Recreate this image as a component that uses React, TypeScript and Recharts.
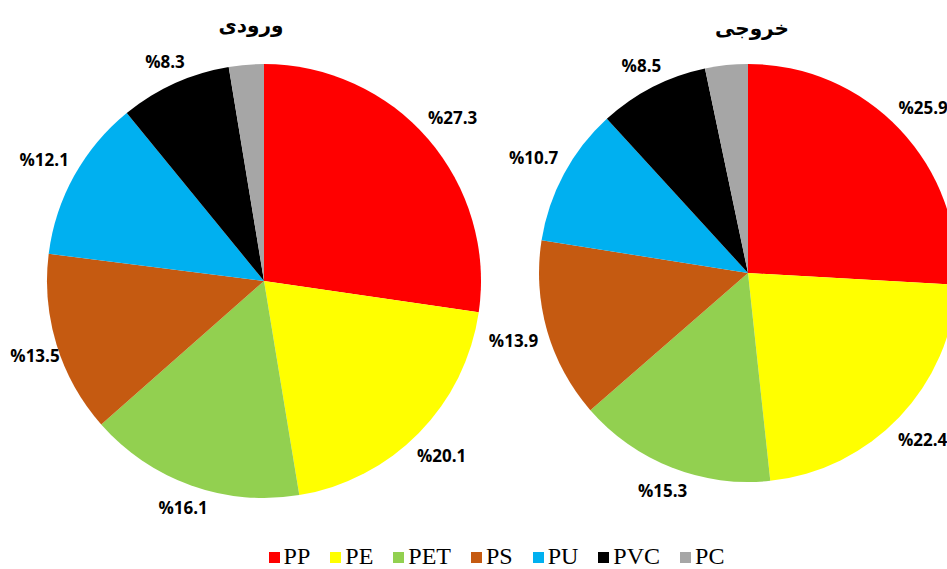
import { PieChart, Pie, Cell, Legend } from "recharts";

const categories = ["PP", "PE", "PET", "PS", "PU", "PVC", "PC"];
const inletValues = [27.3, 20.1, 16.1, 13.5, 12.1, 8.3, 2.6];
const outletValues = [25.9, 22.4, 15.3, 13.9, 10.7, 8.5, 3.3];
const titles = ["ورودی", "خروجی"];

const COLORS = ["#ff0000", "#ffff00", "#92d050", "#c55a11", "#00b0f0", "#000000", "#a6a6a6"];

const inletData = categories.map((name, i) => ({ name, value: inletValues[i] }));
const outletData = categories.map((name, i) => ({ name, value: outletValues[i] }));

const RADIAN = Math.PI / 180;

// etiqueta fuera del sector, como "outside end" de Excel
function renderLabel(props: any) {
  const { cx, cy, midAngle, outerRadius, value, name } = props;
  if (name === "PC") return null;
  const text = `%${value}`;
  const w = text.length * 10;
  const h = 14;
  const cos = Math.cos(-midAngle * RADIAN);
  const sin = Math.sin(-midAngle * RADIAN);
  const d = outerRadius + 9 + (w / 2) * Math.abs(cos) + (h / 2) * Math.abs(sin);
  const x = Math.max(cx + d * cos, w / 2 + 10);
  return (
    <text
      x={x}
      y={cy + d * sin}
      textAnchor="middle"
      dominantBaseline="central"
      fill="#000"
      style={{ fontFamily: "'Open Sans', sans-serif", fontWeight: 700, fontSize: 17 }}
    >
      {text}
    </text>
  );
}

// leyenda: una entrada por categoría, en el orden de los datos
function renderLegend() {
  return (
    <div
      style={{
        display: "flex",
        justifyContent: "center",
        paddingLeft: 46,
        fontFamily: "'Liberation Serif', serif",
        fontSize: 24,
        lineHeight: "26px",
        color: "#000",
      }}
    >
      {categories.map((name, i) => (
        <span
          key={name}
          style={{ display: "inline-flex", alignItems: "center", marginRight: i < categories.length - 1 ? 20 : 0 }}
        >
          <span style={{ width: 11, height: 11, marginTop: 3, marginRight: 4, background: COLORS[i] }} />
          {name}
        </span>
      ))}
    </div>
  );
}

const titleStyle: React.CSSProperties = {
  position: "absolute",
  fontFamily: "'DejaVu Sans', sans-serif",
  fontWeight: 700,
  fontSize: 20,
  direction: "rtl",
  transform: "translate(-50%, -50%)",
  whiteSpace: "nowrap",
};

export default function App() {
  return (
    <div style={{ position: "absolute", left: 0, top: 0, width: 947, height: 569, background: "#fff", overflow: "hidden" }}>
      <PieChart width={947} height={569} margin={{ top: 0, right: 0, bottom: 0, left: 0 }}>
        <Pie
          data={inletData}
          dataKey="value"
          nameKey="name"
          cx={264}
          cy={281}
          outerRadius={217}
          startAngle={90}
          endAngle={-270}
          stroke="none"
          label={renderLabel}
          labelLine={false}
          isAnimationActive={false}
        >
          {inletData.map((entry, index) => (
            <Cell key={`in-${index}`} fill={COLORS[index]} />
          ))}
        </Pie>
        <Pie
          data={outletData}
          dataKey="value"
          nameKey="name"
          cx={748}
          cy={273}
          outerRadius={209}
          startAngle={90}
          endAngle={-270}
          stroke="none"
          label={renderLabel}
          labelLine={false}
          legendType="none"
          isAnimationActive={false}
        >
          {outletData.map((entry, index) => (
            <Cell key={`out-${index}`} fill={COLORS[index]} />
          ))}
        </Pie>
        <Legend verticalAlign="bottom" align="center" height={26} content={renderLegend} />
      </PieChart>
      <div style={{ ...titleStyle, left: 251, top: 25 }}>{titles[0]}</div>
      <div style={{ ...titleStyle, left: 752, top: 28 }}>{titles[1]}</div>
    </div>
  );
}
